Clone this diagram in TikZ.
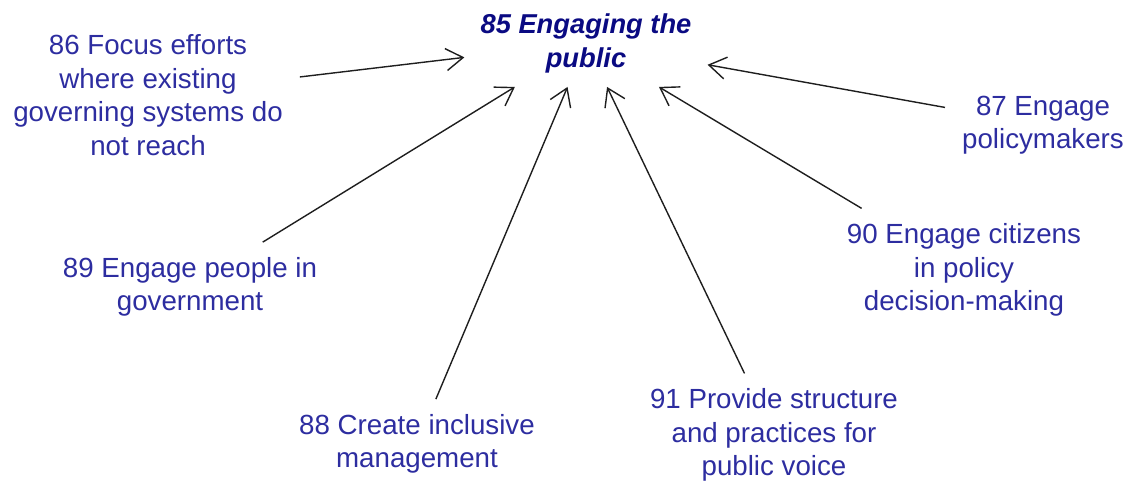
\documentclass[tikz,border=0pt]{standalone}
\usepackage{fontspec}
\setmainfont{Liberation Sans}
\usetikzlibrary{arrows.meta}
\definecolor{lbl}{RGB}{45,45,160}
\definecolor{ttl}{RGB}{10,10,130}
\definecolor{ln}{RGB}{30,30,30}
\tikzset{
  lab/.style={align=center, text=lbl, font=\fontsize{27.7}{33.5}\selectfont, inner xsep=17pt, inner ysep=15pt},
  ttlbox/.style={align=center, text=ttl, font=\fontsize{27.3}{34}\selectfont\bfseries\itshape, inner xsep=16pt, inner ysep=14pt},
  arr/.style={draw=ln, line width=1.4pt, -{Straight Barb[length=17pt,width=22pt,line width=1.4pt]}}
}
\begin{document}
\begin{tikzpicture}[x=1pt,y=-1pt]
\useasboundingbox (0,0) rectangle (1128,487);
\node[ttlbox] (n85) at (586,43) {85 Engaging the\\public};
\node[lab] (n86) at (148,95) {86 Focus efforts\\where existing\\governing systems do\\not reach};
\node[lab] (n87) at (1043,125) {87 Engage\\policymakers};
\node[lab] (n89) at (190,287) {89 Engage people in\\government};
\node[lab] (n90) at (964,270) {90 Engage citizens\\in policy\\decision-making};
\node[lab] (n88) at (417,444) {88 Create inclusive\\management};
\node[lab] (n91) at (774,435) {91 Provide structure\\and practices for\\public voice};
\draw[arr] (n86) -- (n85);
\draw[arr] (n87) -- (n85);
\draw[arr] (n89) -- (n85);
\draw[arr] (n90) -- (n85);
\draw[arr] (n88) -- (n85);
\draw[arr] (n91) -- (n85);
\end{tikzpicture}
\end{document}
